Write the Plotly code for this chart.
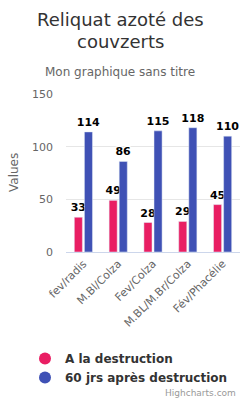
import plotly.graph_objects as go

categories = ["fev/radis", "M.Bl/Colza", "Fev/Colza", "M.BL/M.Br/Colza", "Fév/Phacélie"]
series_names = ["A la destruction", "60 jrs après destruction"]
at_destruction = [33, 49, 28, 29, 45]
after_60_days = [114, 86, 115, 118, 110]
y_ticks = [0, 50, 100, 150]

colors = ["#e91e63", "#3f51b5"]
FONT = "DejaVu Sans"
outline = "-1px -1px 0 #fff, 1px -1px 0 #fff, -1px 1px 0 #fff, 1px 1px 0 #fff"

W, H = 240, 399
L, T = 66, 94
PLOT_BOTTOM = 252
B = H - PLOT_BOTTOM
PH = PLOT_BOTTOM - T
PW = W - L


def py(y):  # page y (from top, px) -> paper y
    return (PLOT_BOTTOM - y) / PH


def px(x):  # page x (from left, px) -> paper x
    return (x - L) / PW


fig = go.Figure()
for name, vals, col in zip(series_names, [at_destruction, after_60_days], colors):
    fig.add_trace(go.Bar(
        x=categories, y=vals, name=name, marker_color=col, showlegend=False,
        text=[str(v) for v in vals], textposition="outside", cliponaxis=False,
        constraintext="none", hoverinfo="skip",
        textfont=dict(family=FONT, size=11, color="#000000", weight="bold", shadow=outline),
    ))
    fig.add_trace(go.Scatter(
        x=[categories[0]], y=[None], mode="markers", name="<b>" + name + "</b>",
        marker=dict(color=col, size=12, symbol="circle"), hoverinfo="skip",
    ))

fig.update_layout(
    width=W, height=H,
    margin=dict(l=L, r=0, t=T, b=B, autoexpand=False),
    paper_bgcolor="#ffffff", plot_bgcolor="#ffffff",
    font=dict(family=FONT, color="#666666"),
    barmode="group", bargap=0.42, bargroupgap=0.2,
    xaxis=dict(tickangle=-45, tickfont=dict(size=11, color="#666666"),
               showline=True, linecolor="#ccd6eb", ticks="", showgrid=False, automargin=False),
    yaxis=dict(range=[0, 150], tickvals=y_ticks, tickfont=dict(size=11, color="#666666"),
               gridcolor="#e6e6e6", zeroline=False, showline=False, automargin=False,
               ticklabelstandoff=12),
    legend=dict(xref="container", yref="container", x=25 / W, y=1 - 344 / H,
                xanchor="left", yanchor="top", font=dict(size=12, color="#333333"),
                tracegroupgap=0, itemwidth=30, bgcolor="rgba(0,0,0,0)"),
    annotations=[
        dict(text="Reliquat azoté des", xref="paper", yref="paper",
             x=px(120), y=py(20), showarrow=False, xanchor="center", yanchor="middle",
             font=dict(family=FONT, size=18, color="#333333")),
        dict(text="couvzerts", xref="paper", yref="paper",
             x=px(120), y=py(41), showarrow=False, xanchor="center", yanchor="middle",
             font=dict(family=FONT, size=18, color="#333333")),
        dict(text="Mon graphique sans titre", xref="paper", yref="paper",
             x=px(120), y=py(72), showarrow=False, xanchor="center", yanchor="middle",
             font=dict(family=FONT, size=12, color="#666666")),
        dict(text="Values", xref="paper", yref="paper", textangle=-90,
             x=px(14), y=py(172), showarrow=False, xanchor="center", yanchor="middle",
             font=dict(family=FONT, size=12, color="#666666")),
        dict(text="Highcharts.com", xref="paper", yref="paper",
             x=1, xshift=-2, y=py(393), showarrow=False, xanchor="right", yanchor="middle",
             font=dict(family=FONT, size=9, color="#999999")),
    ],
)
fig.write_html(
    "out.html",
    config={"displayModeBar": False},
    post_script="document.body.style.margin='0';document.body.style.overflow='hidden';",
)
